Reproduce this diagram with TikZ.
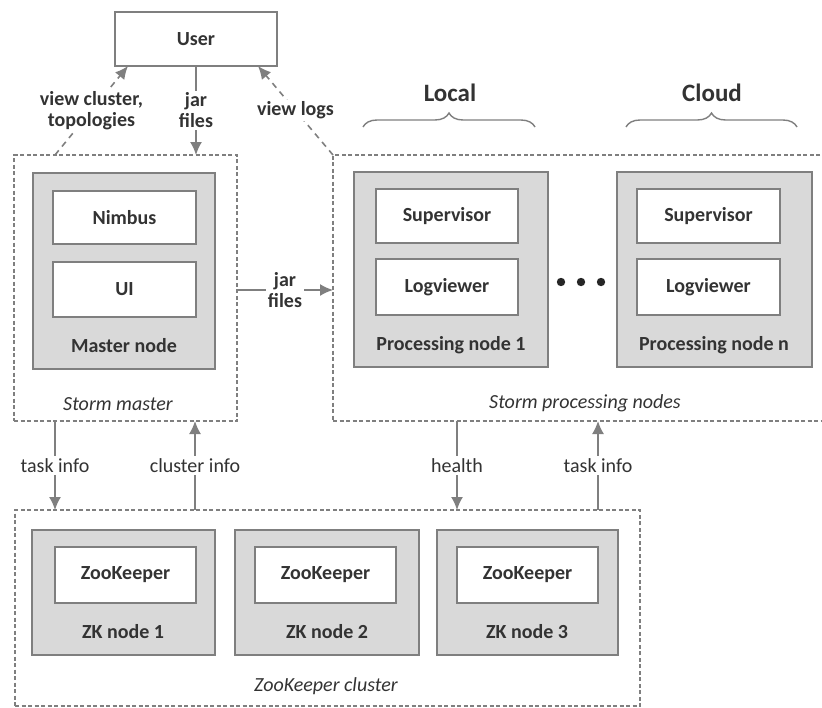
\documentclass[tikz,border=0pt]{standalone}
\usepackage{fontspec}
\setmainfont{Carlito}
\usetikzlibrary{arrows.meta,decorations.pathreplacing}
\definecolor{linegray}{HTML}{7F7F7F}
\definecolor{boxgray}{HTML}{D9D9D9}
\definecolor{textgray}{HTML}{333333}
\begin{document}
\begin{tikzpicture}[x=1pt,y=-1pt,font=\fontsize{20}{22}\selectfont,text=textgray]
\tikzset{
  white box/.style={shape=rectangle,draw=linegray,fill=white,line width=1.6pt,inner sep=0pt,font=\fontsize{20}{22}\selectfont\bfseries},
  gray box/.style={shape=rectangle,draw=linegray,fill=boxgray,line width=1.6pt,inner sep=0pt},
  group box/.style={shape=rectangle,draw=linegray,line width=1.2pt,dash pattern=on 4pt off 2.5pt,inner sep=0pt},
  box label/.style={font=\fontsize{20}{22}\selectfont\bfseries},
  group label/.style={font=\fontsize{20}{22}\selectfont\itshape},
  link label/.style={fill=white,inner sep=2pt,align=center,font=\fontsize{20}{21}\selectfont\bfseries},
  link/.style={draw=linegray,line width=1.6pt,-{Latex[length=13pt,width=12pt]}},
  dashed link/.style={link,dash pattern=on 6pt off 5pt}
}
\useasboundingbox (0,0) rectangle (822,707);

% groups
\node[group box,minimum width=223,minimum height=266] at (125.5,288)   (master)  {};
\node[group box,minimum width=507,minimum height=266] at (586.5,288)   (procs)   {};
\node[group box,minimum width=625,minimum height=196] at (327.5,608)   (zkc)     {};

% user
\node[white box,minimum width=162,minimum height=54] at (196,39)       (user)    {User};

% master node
\node[gray box,minimum width=182,minimum height=196]  at (124,271)     (mnode)   {};
\node[white box,minimum width=143,minimum height=53]  at (124.5,217.5) (nimbus)  {Nimbus};
\node[white box,minimum width=143,minimum height=55]  at (124.5,289.5) (ui)      {UI};
\node[box label] at (124,346)   (mnodelbl) {Master node};
\node[group label] at (118,404) (masterlbl) {Storm master};

% processing nodes
\node[gray box,minimum width=194,minimum height=195]  at (451,269.5)   (pn1)     {};
\node[white box,minimum width=142,minimum height=54]  at (447,216)     (sup1)    {Supervisor};
\node[white box,minimum width=142,minimum height=56]  at (447,287)     (log1)    {Logviewer};
\node[box label] at (451,345)   (pn1lbl)  {Processing node 1};

\node[gray box,minimum width=195,minimum height=195]  at (714.5,269.5) (pnn)     {};
\node[white box,minimum width=143,minimum height=54]  at (708.5,216)   (supn)    {Supervisor};
\node[white box,minimum width=143,minimum height=56]  at (708.5,287)   (logn)    {Logviewer};
\node[box label] at (714,345)   (pnnlbl)  {Processing node n};

\foreach \x in {561,581,601}
  \fill[black!85] (\x,282) circle (4.2);

\node[group label] at (585,403) (procslbl) {Storm processing nodes};

% local / cloud
\node[font=\fontsize{25}{27}\selectfont\bfseries] at (450,93)  (local) {Local};
\node[font=\fontsize{25}{27}\selectfont\bfseries] at (712,93)  (cloud) {Cloud};
\draw[linegray,line width=1.4pt,decorate,decoration={brace,amplitude=14pt}] (363,127) -- (535,127);
\draw[linegray,line width=1.4pt,decorate,decoration={brace,amplitude=14pt}] (626,127) -- (797,127);

% zookeeper nodes
\node[gray box,minimum width=183,minimum height=125]  at (123.5,592.5) (zk1)     {};
\node[gray box,minimum width=184,minimum height=125]  at (327,592.5)   (zk2)     {};
\node[gray box,minimum width=181,minimum height=125]  at (527.5,592.5) (zk3)     {};
\node[white box,minimum width=141,minimum height=56]  at (125.5,575)   (zoo1)    {ZooKeeper};
\node[white box,minimum width=141,minimum height=56]  at (325.5,575)   (zoo2)    {ZooKeeper};
\node[white box,minimum width=141,minimum height=56]  at (527.5,575)   (zoo3)    {ZooKeeper};
\node[box label] at (123,632)   (zk1lbl)  {ZK node 1};
\node[box label] at (327,632)   (zk2lbl)  {ZK node 2};
\node[box label] at (527,632)   (zk3lbl)  {ZK node 3};
\node[group label] at (326,686) (zkclbl)  {ZooKeeper cluster};

% connector ends
\coordinate (vc)  at (55,155);
\coordinate (vcu) at (128,66);
\coordinate (ju)  at (196,66);
\coordinate (jd)  at (196,155);
\coordinate (vl)  at (333,155);
\coordinate (vlu) at (258,66);
\coordinate (jm)  at (237,290);
\coordinate (jp)  at (333,290);
\coordinate (m1)  at (55,421);   \coordinate (z1) at (55,510);
\coordinate (m2)  at (195,421);  \coordinate (z2) at (195,510);
\coordinate (p1)  at (457,421);  \coordinate (z3) at (457,510);
\coordinate (p2)  at (598,421);  \coordinate (z4) at (598,510);

\path
      (vc)   edge[dashed link] node[link label] {view cluster,\\topologies} (vcu)
      (ju)   edge[link]        node[link label] {jar\\files} (jd)
      (vl)   edge[dashed link] node[link label] {view logs} (vlu)
      (jm)   edge[link]        node[link label] {jar\\files} (jp)
      (m1)   edge[link]        node[link label,font=\fontsize{20}{22}\selectfont] {task info} (z1)
      (z2)   edge[link]        node[link label,font=\fontsize{20}{22}\selectfont] {cluster info} (m2)
      (p1)   edge[link]        node[link label,font=\fontsize{20}{22}\selectfont] {health} (z3)
      (z4)   edge[link]        node[link label,font=\fontsize{20}{22}\selectfont] {task info} (p2)
;
\end{tikzpicture}
\end{document}
